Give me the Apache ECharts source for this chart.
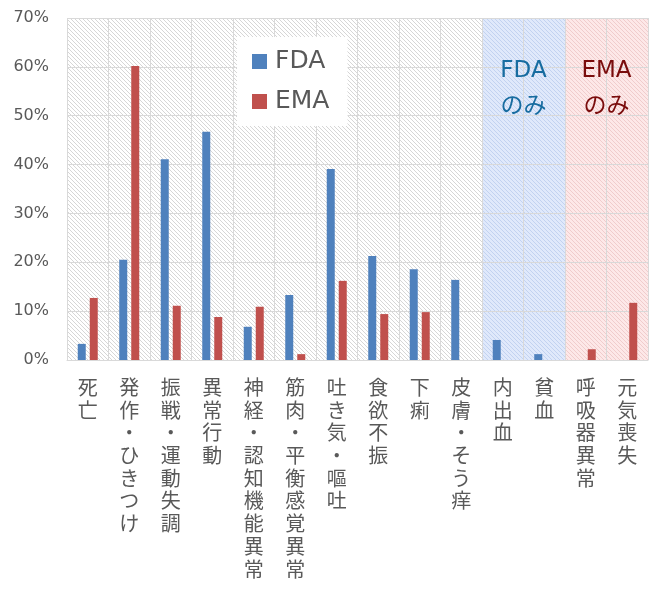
<!DOCTYPE html>
<html>
<head>
<meta charset="utf-8">
<script src="https://cdn.jsdelivr.net/npm/echarts@6/dist/echarts.min.js"></script>
<style>
html,body{margin:0;padding:0;background:#fff;}
#chart{width:667px;height:597px;}
</style>
</head>
<body>
<div id="chart"></div>
<script>
var categories = ['死亡','発作・ひきつけ','振戦・運動失調','異常行動','神経・認知機能異常','筋肉・平衡感覚異常','吐き気・嘔吐','食欲不振','下痢','皮膚・そう痒','内出血','貧血','呼吸器異常','元気喪失'];
var fdaValues = [3.3, 20.5, 41.1, 46.7, 6.8, 13.3, 39.1, 21.3, 18.6, 16.4, 4.1, 1.2, null, null];
var emaValues = [12.7, 60.2, 11.1, 8.8, 10.9, 1.2, 16.2, 9.4, 9.8, null, null, null, 2.2, 11.7];
var yTicks = [0, 10, 20, 30, 40, 50, 60, 70];
// category index ranges of the shaded groups
var commonRange = [0, 10];
var fdaOnlyRange = [10, 12];
var emaOnlyRange = [12, 14];
var groupLabels = ['FDA\nのみ', 'EMA\nのみ'];

function hatch(bg, fg) {
  var c = document.createElement('canvas');
  c.width = 4; c.height = 4;
  var g = c.getContext('2d');
  g.fillStyle = bg; g.fillRect(0, 0, 4, 4);
  g.fillStyle = fg;
  for (var i = 0; i < 4; i++) g.fillRect(i, i, 1, 1);
  return {image: c, repeat: 'repeat'};
}

var latin = "'DejaVu Sans', 'Noto Sans CJK JP', sans-serif";
var cjk = "'Noto Sans CJK JP', sans-serif";
var chart = echarts.init(document.getElementById('chart'), null, {renderer: 'canvas'});
chart.setOption({
  animation: false,
  backgroundColor: '#ffffff',
  grid: {left: 67, right: 19, top: 18, bottom: 237},
  legend: {
    data: ['FDA', 'EMA'],
    orient: 'vertical',
    left: 237, top: 37,
    padding: [12, 18, 12, 15],
    backgroundColor: '#ffffff',
    icon: 'rect',
    itemWidth: 15, itemHeight: 15,
    itemGap: 15,
    textStyle: {fontFamily: latin, fontSize: 25, lineHeight: 25, color: '#595959', padding: [0, 0, 0, 3]}
  },
  xAxis: [{
    type: 'category',
    data: categories,
    axisLine: {lineStyle: {color: '#d9d9d9', width: 1}},
    axisTick: {show: false},
    splitLine: {show: true, interval: 0, lineStyle: {color: '#d9d9d9', width: 1}},
    axisLabel: {
      interval: 0, margin: 16,
      fontFamily: cjk, fontSize: 20, lineHeight: 22.7, color: '#595959',
      verticalAlign: 'top',
      formatter: function (v) { return v.split('').join('\n'); }
    }
  }, {
    type: 'value', min: 0, max: categories.length, show: false
  }],
  yAxis: {
    type: 'value', min: yTicks[0], max: yTicks[yTicks.length - 1], interval: 10,
    axisLine: {show: false}, axisTick: {show: false},
    splitLine: {lineStyle: {color: '#d9d9d9', width: 1}},
    axisLabel: {margin: 18, fontFamily: latin, fontSize: 16, color: '#595959', formatter: '{value}%'}
  },
  series: [{
    name: 'bg', type: 'line', xAxisIndex: 1, z: -1, silent: true,
    data: [[0, 0]], showSymbol: false, lineStyle: {opacity: 0},
    markArea: {
      silent: true, z: -1,
      label: {show: false},
      emphasis: {disabled: true},
      data: [
        [{xAxis: commonRange[0], itemStyle: {color: hatch('#ffffff', '#d6d6d6')}}, {xAxis: commonRange[1]}],
        [{xAxis: fdaOnlyRange[0], itemStyle: {color: hatch('#e0e9fb', '#c2d2f0')}}, {xAxis: fdaOnlyRange[1]}],
        [{xAxis: emaOnlyRange[0], itemStyle: {color: hatch('#fde8e8', '#f0cccc')}}, {xAxis: emaOnlyRange[1]}]
      ]
    }
  }, {
    name: 'FDA', type: 'bar', data: fdaValues, barWidth: 8, barGap: '50%',
    itemStyle: {color: '#4f81bd'}
  }, {
    name: 'EMA', type: 'bar', data: emaValues, barWidth: 8, barGap: '50%',
    itemStyle: {color: '#c0504d'}
  }]
});

function placeGroupLabels() {
  var ranges = [fdaOnlyRange, emaOnlyRange];
  var colors = ['#176ca0', '#7a0c0c'];
  var els = ranges.map(function (r, i) {
    var p = chart.convertToPixel({xAxisIndex: 1, yAxisIndex: 0}, [(r[0] + r[1]) / 2, yTicks[yTicks.length - 1]]);
    return {
      type: 'text', z: 3, silent: true,
      x: p[0], y: p[1] + 35,
      style: {
        text: groupLabels[i], align: 'center', verticalAlign: 'top',
        font: "23px 'DejaVu Sans', 'Noto Sans CJK JP', sans-serif",
        lineHeight: 36, fill: colors[i]
      }
    };
  });
  chart.setOption({graphic: els});
}
placeGroupLabels();
</script>
</body>
</html>
